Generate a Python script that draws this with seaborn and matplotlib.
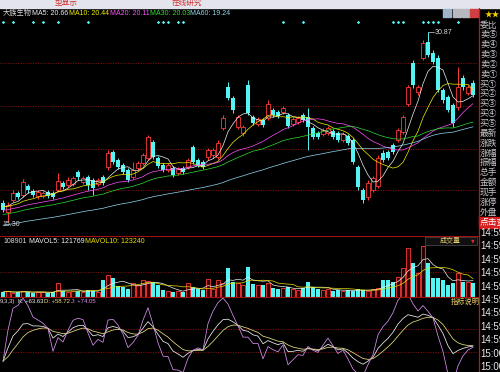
import numpy as np
import pandas as pd
import matplotlib
matplotlib.use('Agg')
import matplotlib.pyplot as plt
from matplotlib.patches import Rectangle
import matplotlib.transforms as mtransforms
import seaborn as sns

# ---------------- data ----------------
stock_name = '大族生物'
opens = [16.85, 16.12, 17.10, 17.67, 17.51, 18.25, 17.84, 17.43, 17.43, 17.76,
         17.67, 17.92, 18.49, 18.33, 18.41, 19.40, 18.58, 18.99, 18.74, 18.41,
         18.99, 19.81, 21.04, 20.38, 19.97, 19.56, 18.99, 19.72, 20.13, 20.54,
         21.86, 20.54, 19.97, 19.56, 19.72, 19.31, 19.72, 19.81, 21.45, 20.38,
         20.22, 20.63, 20.79, 20.63, 23.00, 26.37, 25.46, 23.09, 22.59, 26.53,
         23.91, 23.33, 23.66, 23.82, 24.48, 24.32, 24.32, 24.07, 23.33, 23.50,
         24.07, 23.91, 23.00, 22.59, 22.51, 22.59, 22.76, 22.59, 22.02, 22.35,
         22.02, 19.81, 17.92, 17.35, 17.92, 18.25, 20.95, 21.04, 21.61, 22.02,
         22.68, 24.97, 28.33, 25.96, 28.74, 30.06, 29.15, 28.74, 26.12, 25.55,
         24.89, 24.73, 27.10, 25.87, 26.69]
closes = [16.28, 16.69, 17.67, 17.35, 18.58, 17.92, 17.51, 17.76, 17.67, 17.43,
          17.35, 18.66, 18.17, 18.74, 18.90, 18.99, 18.90, 18.33, 18.08, 18.74,
          18.49, 20.95, 20.22, 19.81, 19.40, 18.74, 19.56, 20.13, 20.79, 22.27,
          20.63, 19.89, 19.56, 19.97, 19.15, 19.64, 19.40, 20.38, 20.22, 19.97,
          19.81, 21.20, 21.20, 21.77, 23.82, 25.46, 24.48, 23.91, 23.09, 24.23,
          23.41, 23.74, 23.25, 24.97, 24.07, 23.99, 24.64, 23.17, 23.74, 23.82,
          23.66, 23.09, 22.27, 22.27, 22.84, 23.00, 22.27, 22.02, 22.51, 21.77,
          20.22, 18.17, 17.10, 18.49, 18.90, 20.54, 20.38, 20.54, 21.04, 22.84,
          23.91, 26.37, 26.53, 26.37, 29.97, 28.99, 28.42, 26.12, 25.30, 24.48,
          23.41, 26.37, 26.37, 26.37, 25.71]
highs = [17.10, 16.94, 17.92, 17.84, 18.82, 18.41, 18.00, 17.92, 17.84, 17.92,
         17.84, 19.31, 18.66, 18.99, 19.07, 19.56, 19.07, 19.15, 18.90, 18.90,
         19.15, 21.20, 21.20, 20.54, 20.13, 19.72, 20.22, 20.30, 20.95, 22.43,
         22.02, 20.71, 20.13, 20.13, 19.89, 19.81, 19.89, 20.54, 21.61, 20.54,
         20.38, 21.36, 21.36, 22.02, 24.07, 26.78, 25.63, 24.07, 23.25, 26.94,
         24.07, 23.91, 23.82, 25.30, 24.64, 24.48, 24.81, 24.23, 23.91, 23.99,
         24.23, 24.64, 23.17, 22.76, 23.00, 23.17, 22.92, 22.76, 22.68, 22.51,
         22.18, 19.97, 18.08, 18.74, 19.07, 20.79, 21.20, 21.20, 21.77, 23.00,
         24.07, 26.53, 28.58, 26.53, 30.22, 30.87, 29.40, 28.99, 26.28, 25.71,
         25.05, 28.01, 27.35, 26.53, 26.94]
lows = [16.12, 15.30, 16.94, 17.18, 17.35, 17.67, 17.35, 17.18, 17.26, 17.26,
        17.18, 17.76, 18.00, 18.17, 18.25, 18.74, 18.41, 17.92, 17.51, 18.25,
        18.33, 19.56, 20.05, 19.64, 19.23, 18.58, 18.82, 19.56, 19.97, 20.38,
        20.46, 19.72, 19.40, 19.40, 18.99, 19.15, 19.23, 19.64, 20.05, 19.81,
        19.64, 20.38, 20.54, 20.46, 22.84, 25.30, 24.23, 22.92, 22.35, 24.07,
        23.25, 23.17, 23.09, 23.66, 23.91, 23.82, 24.15, 23.00, 23.17, 23.33,
        23.50, 21.20, 22.10, 22.10, 22.35, 22.43, 22.10, 21.86, 21.86, 21.61,
        20.05, 17.92, 16.85, 17.10, 17.76, 18.08, 20.22, 20.38, 20.87, 21.86,
        22.51, 24.81, 26.28, 25.71, 28.58, 28.83, 28.25, 25.96, 25.05, 24.32,
        23.09, 24.48, 26.12, 25.71, 25.55]
volumes = [75000, 90000, 60000, 75000, 90000, 75000, 60000, 75000, 75000, 60000,
           75000, 210000, 90000, 75000, 90000, 90000, 75000, 105000, 90000, 75000,
           255000, 330000, 285000, 165000, 150000, 120000, 210000, 180000, 255000, 240000,
           225000, 180000, 105000, 90000, 75000, 90000, 75000, 210000, 150000, 120000,
           105000, 270000, 120000, 255000, 210000, 435000, 225000, 210000, 180000, 450000,
           195000, 180000, 180000, 210000, 135000, 120000, 135000, 150000, 120000, 105000,
           135000, 225000, 150000, 120000, 105000, 120000, 90000, 105000, 90000, 105000,
           90000, 120000, 105000, 90000, 120000, 135000, 255000, 255000, 225000, 300000,
           435000, 735000, 510000, 360000, 765000, 510000, 285000, 285000, 255000, 180000,
           210000, 360000, 225000, 225000, 210000]
# closes before the first visible day (used only for the moving averages)
prior_closes = [13.6, 13.5, 13.8, 13.7, 13.4, 13.6, 13.9, 14.0, 13.8, 13.7,
                13.9, 14.1, 14.0, 13.8, 14.2, 14.3, 14.1, 14.0, 14.4, 14.2,
                14.3, 14.5, 14.4, 14.2, 14.6, 14.8, 14.5, 14.7, 14.9, 14.6,
                14.8, 15.0, 15.2, 14.9, 15.1, 15.3, 15.0, 15.4, 15.6, 15.3,
                15.5, 15.8, 15.6, 15.9, 16.1, 15.8, 16.0, 16.3, 16.1, 15.9,
                16.2, 16.4, 16.6, 16.3, 16.5, 16.8, 16.6, 16.4, 16.7, 16.9]
marker_idx = [0, 2, 6, 8, 11, 17, 31, 32, 33, 35, 36, 56, 60, 71, 78, 79, 80, 84, 85, 86, 87, 91]
ma_periods = [5, 10, 20, 30, 60]
ma_labels = ['MA5: 20.66', 'MA10: 20.44', 'MA20: 20.11', 'MA30: 20.03', 'MA60: 19.24']
vol_labels = ['108901', 'MAVOL5: 121769', 'MAVOL10: 123240']
kdj_labels = ['9,3,3)', 'K: +63.63', 'D: +58.72', 'J: +74.05']
right_labels = ['委比', '卖⑤', '卖④', '卖③', '卖②', '卖①', '买①', '买②', '买③', '买④',
                '买⑤', '最新', '涨跌', '涨幅', '振幅', '总手', '金额', '现手', '涨停', '外盘']
right_button = '点击查看'
right_times = ['14:59'] * 9 + ['15:00'] * 2
toolbar_texts = ['型显示', '在线研究']
vol_box_text = '成交量'
kdj_box_text = '指标说明'

# ---------------- style ----------------
sns.set_theme(style='dark')
plt.rcParams['font.family'] = ['Liberation Sans', 'Noto Sans CJK SC', 'DejaVu Sans']
plt.rcParams['axes.unicode_minus'] = False

W, H = 500, 372
fig = plt.figure(figsize=(W / 100, H / 100), dpi=100, facecolor='black')

RED = '#ff3a3a'
CYAN = '#54f4f4'
GRID = '#8a1010'
MA_COLORS = ['#f0f0f0', '#f0f000', '#ff50ff', '#30e030', '#90d8f0']
TXT = '#d8d8d8'


def rect(x0, y0, x1, y1):
    return [x0 / W, 1 - y1 / H, (x1 - x0) / W, (y1 - y0) / H]


def ftext(x, y, s, **kw):
    return fig.text(x / W, 1 - y / H, s, **kw)


def frect(x0, y0, x1, y1, **kw):
    fig.patches.append(Rectangle((x0 / W, 1 - y1 / H), (x1 - x0) / W, (y1 - y0) / H,
                                 transform=fig.transFigure, **kw))


def grid_line(ax, frac):
    ax.plot([0, 1], [frac, frac], transform=ax.transAxes, color=GRID, lw=0.6,
            ls=(0, (1.5, 1.5)), zorder=0)


def style_ax(ax):
    ax.set_facecolor('black')
    ax.set_xticks([])
    ax.set_yticks([])
    for s in ax.spines.values():
        s.set_visible(False)
    ax.grid(False)


n = len(closes)
df = pd.DataFrame({'i': np.arange(n), 'open': opens, 'close': closes,
                   'high': highs, 'low': lows, 'vol': volumes})
allc = pd.Series(prior_closes + closes)
for p in ma_periods:
    df[f'MA{p}'] = allc.rolling(p, min_periods=1).mean().to_numpy()[len(prior_closes):]
df['MAVOL5'] = df['vol'].rolling(5, min_periods=1).mean()
df['MAVOL10'] = df['vol'].rolling(10, min_periods=1).mean()
llv = df['low'].rolling(9, min_periods=1).min()
hhv = df['high'].rolling(9, min_periods=1).max()
rsv = (df['close'] - llv) / (hhv - llv) * 100
df['K'] = rsv.ewm(alpha=1 / 3, adjust=False).mean()
df['D'] = df['K'].ewm(alpha=1 / 3, adjust=False).mean()
df['J'] = 3 * df['K'] - 2 * df['D']
up = (df['close'] >= df['open']).to_numpy()

XL = (-0.6, 95.0)
PRICE_LIM = (14.15, 32.84)

# ---------------- main price panel ----------------
ax = fig.add_axes(rect(0, 8, 478, 236))
style_ax(ax)
for gy in [63, 106, 149, 190]:
    grid_line(ax, (236 - gy) / 228)

wick_colors = np.where(up, RED, CYAN)
ax.vlines(df['i'], df['low'], df['high'], colors=wick_colors, lw=0.7, zorder=2)
body_bot = np.minimum(df['open'], df['close'])
body_h = np.maximum(np.abs(df['close'] - df['open']), 0.05)
ax.bar(df['i'][up], body_h[up], bottom=body_bot[up], width=0.62,
       facecolor='black', edgecolor=RED, linewidth=0.6, zorder=3)
ax.bar(df['i'][~up], body_h[~up], bottom=body_bot[~up], width=0.62,
       color=CYAN, linewidth=0, zorder=3)
for p, c in zip(ma_periods, MA_COLORS):
    sns.lineplot(data=df, x='i', y=f'MA{p}', ax=ax, color=c, lw=0.5, legend=False, zorder=4)
ax.set_xlabel('')
ax.set_ylabel('')
ax.set_xlim(*XL)
ax.set_ylim(*PRICE_LIM)

# info-mine markers
mk_tr = mtransforms.blended_transform_factory(ax.transData, ax.transAxes)
ax.scatter(marker_idx, [(236 - 22) / 228] * len(marker_idx), s=3, marker='D',
           color=CYAN, transform=mk_tr, zorder=5, linewidths=0, clip_on=False)

# max / min annotations
imax = int(np.argmax(df['high']))
imin = int(np.argmin(df['low']))
ax.plot([imax, imax + 1.2], [df['high'][imax]] * 2, color=TXT, lw=0.5, zorder=5)
ax.text(imax + 1.4, df['high'][imax], f"{df['high'][imax]:.2f}", color=TXT,
        fontsize=5, va='center', ha='left', zorder=5)
ax.text(-0.1, df['low'][imin] - 0.2, f"{df['low'][imin]:.2f}", color=TXT,
        fontsize=5, va='center', ha='left', zorder=5)

# ---------------- volume panel ----------------
axv = fig.add_axes(rect(0, 236, 478, 297))
style_ax(axv)
grid_line(axv, (297 - 272) / 61)
axv.bar(df['i'][up], df['vol'][up], width=0.62, facecolor='#2a0000',
        edgecolor=RED, linewidth=0.6, zorder=2)
axv.bar(df['i'][~up], df['vol'][~up], width=0.62, color=CYAN, linewidth=0, zorder=2)
sns.lineplot(data=df, x='i', y='MAVOL5', ax=axv, color='#f0f0f0', lw=0.5, legend=False, zorder=3)
sns.lineplot(data=df, x='i', y='MAVOL10', ax=axv, color='#e8e000', lw=0.5, legend=False, zorder=3)
axv.set_xlabel('')
axv.set_ylabel('')
axv.set_xlim(*XL)
axv.set_ylim(0, 915000)

# ---------------- KDJ panel ----------------
axk = fig.add_axes(rect(0, 297, 478, 372))
style_ax(axk)
for gy in [329, 352]:
    grid_line(axk, (372 - gy) / 75)
sns.lineplot(data=df, x='i', y='K', ax=axk, color='#f0f0f0', lw=0.55, legend=False)
sns.lineplot(data=df, x='i', y='D', ax=axk, color='#e8e080', lw=0.55, legend=False)
sns.lineplot(data=df, x='i', y='J', ax=axk, color='#d890f0', lw=0.55, legend=False)
axk.set_xlabel('')
axk.set_ylabel('')
axk.set_xlim(*XL)
axk.set_ylim(0, 113.6)

# ---------------- separators ----------------
fig.add_artist(plt.Line2D([0, 478 / W], [1 - 236 / H] * 2, color='#a01010', lw=0.8,
                          transform=fig.transFigure))
fig.add_artist(plt.Line2D([0, 478 / W], [1 - 297 / H] * 2, color='#a01010', lw=0.8,
                          transform=fig.transFigure))
fig.add_artist(plt.Line2D([478.5 / W] * 2, [0, 1 - 8 / H], color='#c01818', lw=0.9,
                          transform=fig.transFigure))

# ---------------- top toolbar ----------------
frect(0, 0, 500, 8, color='#e4e4ec', zorder=0)
ftext(55, 3, toolbar_texts[0], color='#d03030', fontsize=5.5, va='center', ha='left')
ftext(172, 3, toolbar_texts[1], color='#d03030', fontsize=5.5, va='center', ha='left')
for x0, c in [(443, '#9fb4c8'), (453, '#b8b8c0'), (462, '#b8b8c0'), (470, '#d04040')]:
    frect(x0, 9, x0 + 8, 17, color=c, zorder=1)
ftext(485, 15, '★★', color='#f0d000', fontsize=5.5, va='center', ha='left')

# ---------------- header texts ----------------
ftext(3, 13.5, stock_name, color=TXT, fontsize=5.2, va='center', ha='left')
for xs, s, c in zip([32, 69, 110, 150, 190], ma_labels, MA_COLORS):
    ftext(xs, 13.5, s, color=c, fontsize=5, va='center', ha='left')
for xs, s, c in zip([3, 29, 85], vol_labels, ['#d8d8d8', '#f0f0f0', '#e8e000']):
    ftext(xs, 241.5, s, color=c, fontsize=5, va='center', ha='left')
for xs, s, c in zip([0, 18, 44, 71], kdj_labels, ['#d8d8d8', '#f0f0f0', '#e8e080', '#d890f0']):
    ftext(xs, 301.5, s, color=c, fontsize=4.3, va='center', ha='left')

# indicator boxes
frect(425, 237, 477, 245, facecolor='#101010', edgecolor='#505050', lw=0.5)
ftext(440, 241, vol_box_text, color='#e8d070', fontsize=5, va='center', ha='left')
ftext(473, 241, '▼', color='#d03030', fontsize=3.5, va='center', ha='center',
      family=['DejaVu Sans'])
ftext(451, 302, kdj_box_text, color='#e8d070', fontsize=5.2, va='center', ha='left')

# ---------------- right info column ----------------
for k, s in enumerate(right_labels):
    ftext(480, 25 + k * 9.85, s, color='#c8c8c8', fontsize=6.3, va='center', ha='left')
frect(479, 217, 500, 228, color='#d82020', zorder=1)
ftext(480, 222.5, right_button, color='#ffffff', fontsize=6.3, va='center', ha='left')
for k, s in enumerate(right_times):
    ftext(480, 233 + k * 13.4, s, color='#e8e8e8', fontsize=7, va='center', ha='left')

fig.savefig('out.png', dpi=100, facecolor='black')
